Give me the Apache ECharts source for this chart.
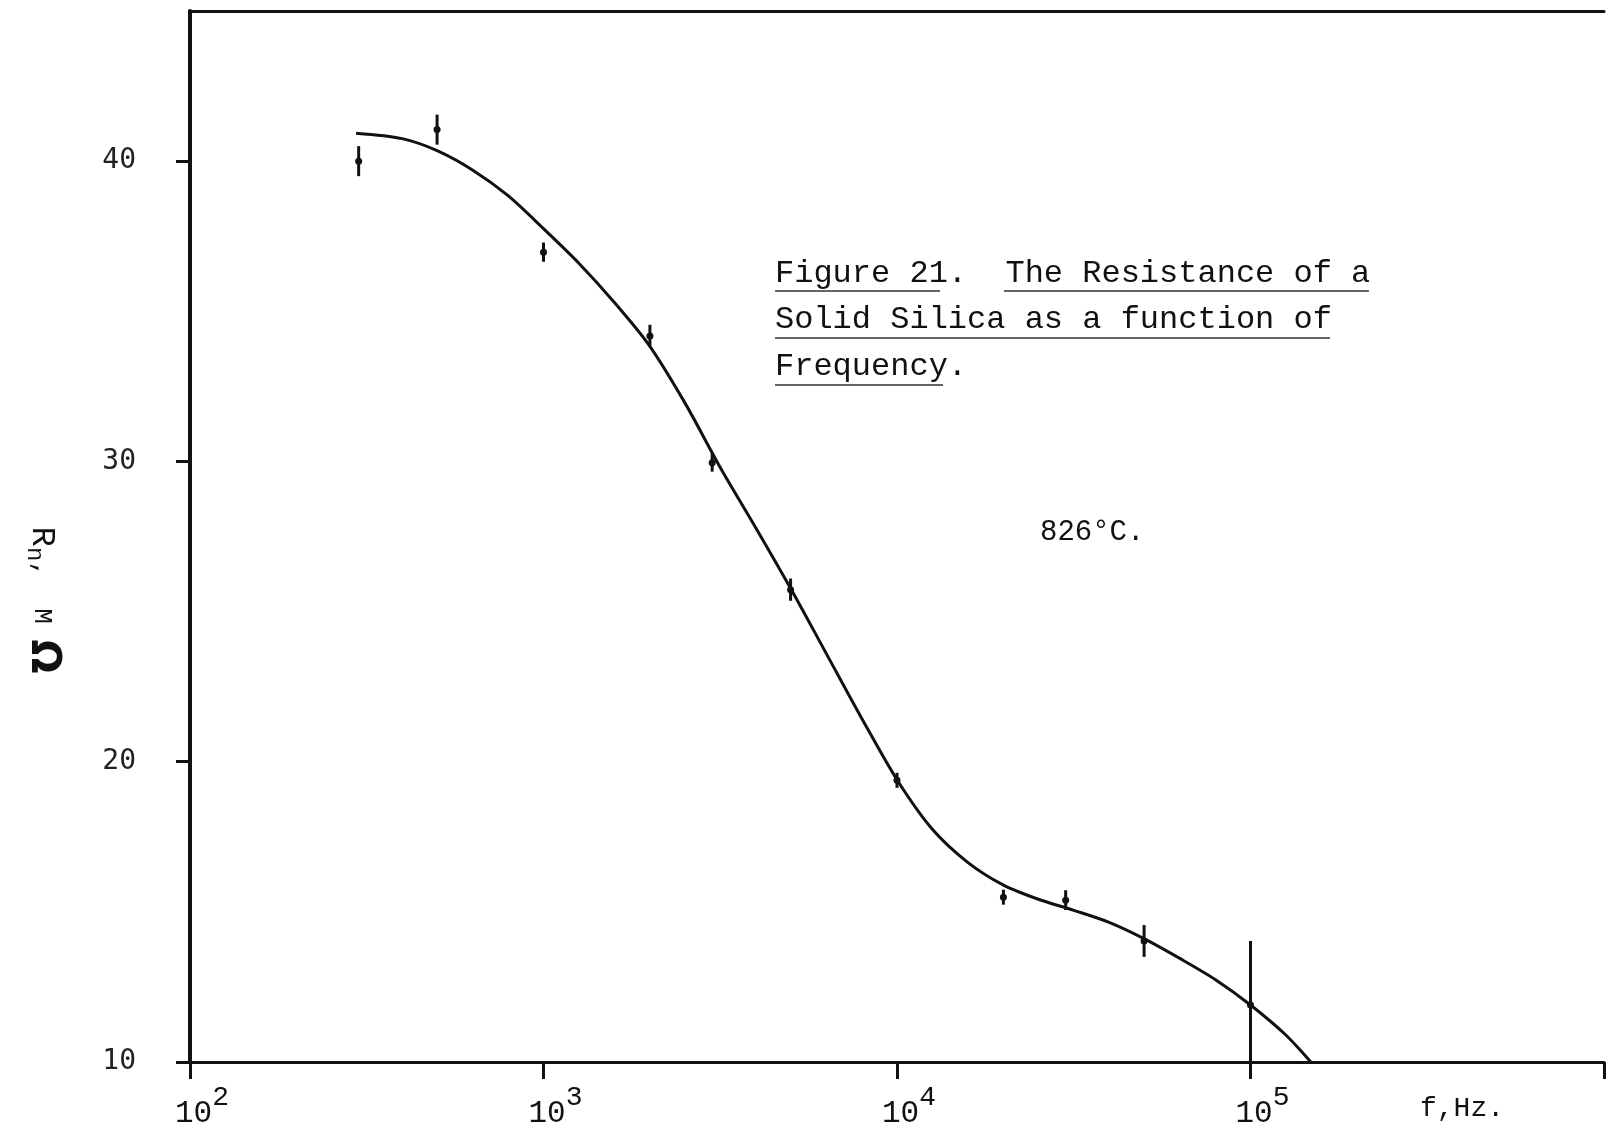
<!DOCTYPE html>
<html>
<head>
<meta charset="utf-8">
<title>Figure 21</title>
<script src="https://cdn.jsdelivr.net/npm/echarts@6.0.0/dist/echarts.min.js"></script>
<style>
  html, body { margin: 0; padding: 0; background: #fff; }
  #chart { width: 1607px; height: 1129px; }
</style>
</head>
<body>
<div id="chart"></div>
<script>
// fitted curve (Hz, MΩ)
const curveFreq = [295, 398, 500, 631, 794, 1000, 1259, 1585, 1995, 2512, 3162, 3981, 5012, 6310, 7943, 10000, 12589, 15849, 19953, 25119, 31623, 39811, 50119, 63096, 79433, 100000, 125893, 148000];
const curveR = [40.93, 40.75, 40.35, 39.7, 38.85, 37.75, 36.6, 35.3, 33.85, 31.95, 29.8, 27.8, 25.75, 23.6, 21.45, 19.4, 17.75, 16.65, 15.9, 15.42, 15.05, 14.65, 14.1, 13.45, 12.75, 11.9, 10.9, 10.0];

// measured points with their error bars
const pointFreq = [300, 500, 1000, 2000, 3000, 5000, 10000, 20000, 30000, 50000, 100000];
const pointR = [40.0, 41.05, 36.97, 34.18, 29.96, 25.73, 19.38, 15.49, 15.39, 14.03, 11.9];
const pointErrHi = [0.5, 0.5, 0.32, 0.37, 0.3, 0.37, 0.25, 0.25, 0.33, 0.53, 2.13];
const pointErrLo = [0.5, 0.5, 0.32, 0.37, 0.3, 0.37, 0.25, 0.25, 0.33, 0.53, 1.9];

const yTicks = [10, 20, 30, 40];
const xTickExp = [2, 3, 4, 5];

const ink = "#111";
const mono = "Liberation Mono";

const chart = echarts.init(document.getElementById("chart"));

const lineData = curveFreq.map((f, i) => [f, curveR[i]]);
const barData = pointFreq.map((f, i) => [f, pointR[i], pointErrHi[i], pointErrLo[i]]);

chart.setOption({
  backgroundColor: "#fff",
  animation: false,
  // right edge pushed just off the page so the 10^6 tick is not seen
  grid: { left: 190, right: -4, top: 11, bottom: 64 },
  xAxis: [
    {
      type: "log",
      logBase: 10,
      min: 100,
      max: 1000000,
      axisLine: { lineStyle: { color: ink, width: 3 } },
      axisTick: { inside: false, length: 17, lineStyle: { color: ink, width: 3 } },
      splitLine: { show: false },
      minorTick: { show: false },
      axisLabel: {
        margin: 20,
        padding: [0, 0, 0, 24],
        formatter: (v) => {
          const e = Math.round(Math.log10(v));
          return xTickExp.indexOf(e) >= 0 ? "{b|10}{s|" + e + "}" : "";
        },
        rich: {
          b: { fontFamily: mono, fontSize: 31, color: ink, padding: [16, 0, 0, 0] },
          s: { fontFamily: mono, fontSize: 28, color: ink, padding: [0, 0, 16, 0] },
        },
      },
    },
    {
      // top border
      type: "log",
      position: "top",
      min: 100,
      max: 1000000,
      axisLine: { lineStyle: { color: ink, width: 3 } },
      axisTick: { show: false },
      axisLabel: { show: false },
      splitLine: { show: false },
    },
  ],
  yAxis: {
    type: "value",
    min: 10,
    max: 45,
    interval: 10,
    axisLine: { lineStyle: { color: ink, width: 4 } },
    axisTick: { length: 14, customValues: yTicks, lineStyle: { color: ink, width: 3 } },
    splitLine: { show: false },
    axisLabel: {
      margin: 54,
      customValues: yTicks,
      fontFamily: "DejaVu Sans Mono",
      fontSize: 28,
      color: "#222",
    },
  },
  series: [
    {
      type: "line",
      data: lineData,
      smooth: 0.3,
      symbol: "none",
      lineStyle: { color: ink, width: 3 },
      z: 3,
    },
    {
      type: "custom",
      data: barData,
      z: 4,
      renderItem: (params, api) => {
        const x = api.value(0);
        const y = api.value(1);
        const top = api.coord([x, y + api.value(2)]);
        const bot = api.coord([x, y - api.value(3)]);
        const c = api.coord([x, y]);
        return {
          type: "group",
          children: [
            {
              type: "line",
              shape: { x1: top[0], y1: top[1], x2: bot[0], y2: bot[1] },
              style: { stroke: ink, lineWidth: 3 },
            },
            {
              type: "circle",
              shape: { cx: c[0], cy: c[1], r: 3.5 },
              style: { fill: ink },
            },
          ],
        };
      },
    },
  ],
  graphic: [
    // caption, typewriter style with underlines
    { type: "text", left: 775, top: 258, style: { text: "Figure 21.  The Resistance of a", font: "32px " + mono, fill: ink } },
    { type: "text", left: 775, top: 304, style: { text: "Solid Silica as a function of", font: "32px " + mono, fill: ink } },
    { type: "text", left: 775, top: 351, style: { text: "Frequency.", font: "32px " + mono, fill: ink } },
    { type: "line", shape: { x1: 775, y1: 291, x2: 940, y2: 291 }, style: { stroke: "#333", lineWidth: 1.6 } },
    { type: "line", shape: { x1: 1004, y1: 291, x2: 1369, y2: 291 }, style: { stroke: "#333", lineWidth: 1.6 } },
    { type: "line", shape: { x1: 775, y1: 338, x2: 1330, y2: 338 }, style: { stroke: "#333", lineWidth: 1.6 } },
    { type: "line", shape: { x1: 775, y1: 385, x2: 943, y2: 385 }, style: { stroke: "#333", lineWidth: 1.6 } },
    // temperature
    { type: "text", left: 1040, top: 518, style: { text: "826°C.", font: "29px " + mono, fill: ink } },
    // x axis name
    { type: "text", left: 1420, top: 1095, style: { text: "f,Hz.", font: "28px " + mono, fill: ink } },
    // y axis name, rotated to read downwards
    {
      type: "text",
      x: 42,
      y: 600,
      rotation: -Math.PI / 2,
      style: {
        text: "{r|R}{n|n}{m|,  M }{o|Ω}",
        align: "center",
        verticalAlign: "middle",
        rich: {
          r: { fontFamily: mono, fontSize: 34, fill: ink },
          n: { fontFamily: mono, fontSize: 24, fill: ink, padding: [16, 0, 0, 0] },
          m: { fontFamily: mono, fontSize: 26, fill: ink },
          o: { fontFamily: "DejaVu Sans", fontSize: 40, fontWeight: "bold", fill: ink },
        },
      },
    },
  ],
});
</script>
</body>
</html>
